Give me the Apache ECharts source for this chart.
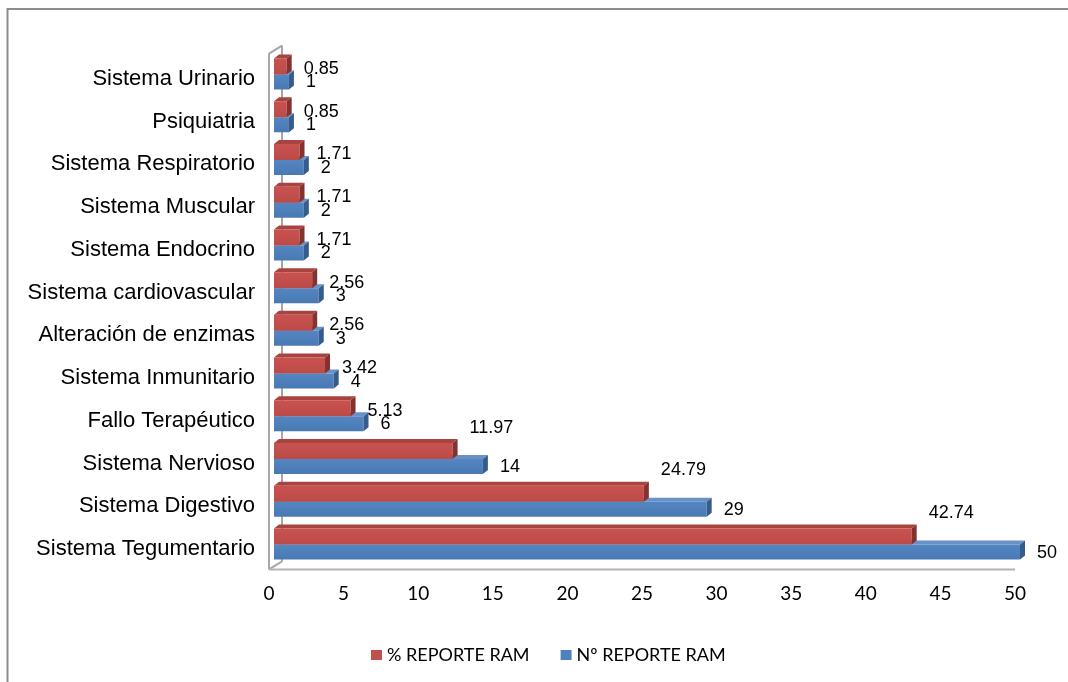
<!DOCTYPE html>
<html>
<head>
<meta charset="utf-8">
<script src="https://cdn.jsdelivr.net/npm/echarts@6/dist/echarts.min.js"></script>
<style>
  html, body { margin: 0; padding: 0; background: #ffffff; }
  #chart { width: 1068px; height: 682px; }
</style>
</head>
<body>
<div id="chart"></div>
<script>
// Categories listed from the bottom of the chart to the top
const categories = [
  'Sistema Tegumentario', 'Sistema Digestivo', 'Sistema Nervioso', 'Fallo Terapéutico',
  'Sistema Inmunitario', 'Alteración de enzimas', 'Sistema cardiovascular', 'Sistema Endocrino',
  'Sistema Muscular', 'Sistema Respiratorio', 'Psiquiatria', 'Sistema Urinario'
];
const pctReport = [42.74, 24.79, 11.97, 5.13, 3.42, 2.56, 2.56, 1.71, 1.71, 1.71, 0.85, 0.85];
const countReport = [50, 29, 14, 6, 4, 3, 3, 2, 2, 2, 1, 1];
const seriesNames = ['% REPORTE RAM', 'Nº REPORTE RAM'];
const axisMin = 0, axisMax = 50, axisStep = 5;

const chart = echarts.init(document.getElementById('chart'), null, { renderer: 'canvas' });

// extrusion of each bar: right and up
const DEPTH_X = 5, DEPTH_Y = -4;
const LABEL_FONT = '18px "Liberation Sans", Arial, sans-serif';

const STYLE_PCT = {
  top: -20.5, bottom: -4.5,
  front: ['#c9524f', '#bb4b48'], topFace: '#a9433f', side: '#85322f',
  labelY: v => (v >= 10 ? -36 : -10)
};
const STYLE_COUNT = {
  top: -4.5, bottom: 10.5,
  front: ['#5386c2', '#4979b3'], topFace: '#6891c7', side: '#365c8b',
  labelY: () => 3.5
};

function bar3d(st) {
  return function (params, api) {
    const v = api.value(0);
    const cat = api.value(1);
    const p0 = api.coord([0, cat]);
    const p1 = api.coord([v, cat]);
    const cy = p0[1];
    const x0 = p0[0], x1 = p1[0];
    const t = cy + st.top, b = cy + st.bottom;
    const dx = DEPTH_X, dy = DEPTH_Y;
    return {
      type: 'group',
      children: [
        {
          type: 'polygon',
          shape: { points: [[x0, t], [x1, t], [x1 + dx, t + dy], [x0 + dx, t + dy]] },
          style: { fill: st.topFace }
        },
        {
          type: 'rect',
          shape: { x: x0, y: t, width: x1 - x0, height: b - t },
          style: {
            fill: new echarts.graphic.LinearGradient(0, 0, 0, 1, [
              { offset: 0, color: st.front[0] },
              { offset: 1, color: st.front[1] }
            ])
          }
        },
        {
          type: 'polygon',
          shape: { points: [[x1, t], [x1 + dx, t + dy], [x1 + dx, b + dy], [x1, b]] },
          style: { fill: st.side }
        },
        {
          type: 'text',
          x: x1 + dx + 12,
          y: cy + st.labelY(v),
          style: {
            text: String(v), fill: '#000000', font: LABEL_FONT,
            align: 'left', verticalAlign: 'middle'
          }
        }
      ]
    };
  };
}

const GRID = { left: 274, right: 48, top: 57.6, bottom: 111.6 };

chart.setOption({
  animation: false,
  backgroundColor: '#ffffff',
  grid: GRID,
  xAxis: {
    type: 'value',
    min: axisMin, max: axisMax, interval: axisStep,
    axisLine: { show: false }, axisTick: { show: false }, splitLine: { show: false },
    axisLabel: {
      margin: 14, color: '#000000', fontFamily: 'Lato, "Noto Sans", sans-serif', fontSize: 19,
      padding: [0, 10, 0, 0]
    }
  },
  yAxis: {
    type: 'category',
    data: categories,
    axisLine: { show: false }, axisTick: { show: false }, splitLine: { show: false },
    axisLabel: {
      margin: 19, color: '#000000', fontFamily: '"Liberation Sans", Arial, sans-serif', fontSize: 22
    }
  },
  legend: {
    data: seriesNames,
    left: 366, top: 641,
    icon: 'rect', itemWidth: 11, itemHeight: 10, itemGap: 31,
    textStyle: { color: '#000000', fontFamily: 'Lato, "Noto Sans", sans-serif', fontSize: 18 }
  },
  series: [
    {
      name: seriesNames[1], type: 'custom', z: 3,
      itemStyle: { color: '#4f81bd' },
      encode: { x: 0, y: 1 },
      renderItem: bar3d(STYLE_COUNT),
      data: countReport.map((v, i) => [v, i])
    },
    {
      name: seriesNames[0], type: 'custom', z: 4,
      itemStyle: { color: '#c0504d' },
      encode: { x: 0, y: 1 },
      renderItem: bar3d(STYLE_PCT),
      data: pctReport.map((v, i) => [v, i])
    }
  ]
});

// Back wall and floor edges, placed from the axis scales
(function drawFrame() {
  const pZero = chart.convertToPixel({ gridIndex: 0 }, [axisMin, 0]);
  const pMax = chart.convertToPixel({ gridIndex: 0 }, [axisMax, 0]);
  const pLast = chart.convertToPixel({ gridIndex: 0 }, [axisMin, categories.length - 1]);
  const band = Math.abs(chart.convertToPixel({ gridIndex: 0 }, [0, 1])[1] - pZero[1]);
  const floorY = pZero[1] + band / 2 - 1;
  const topY = pLast[1] - band / 2 - 4;
  const fx = pZero[0] - 5;      // front edge of the wall
  const bx = fx + 13, by = -8;  // back edge offset
  const wall = { stroke: '#a6a6a6', lineWidth: 2, fill: null };
  chart.setOption({
    graphic: [
      { type: 'line', z: 0, shape: { x1: bx, y1: topY + by, x2: bx, y2: floorY + by }, style: wall },
      { type: 'line', z: 0, shape: { x1: fx, y1: topY, x2: fx, y2: floorY }, style: wall },
      { type: 'line', z: 0, shape: { x1: fx, y1: topY, x2: bx, y2: topY + by }, style: wall },
      { type: 'line', z: 0, shape: { x1: fx, y1: floorY, x2: bx, y2: floorY + by }, style: wall },
      { type: 'line', z: 0, shape: { x1: fx, y1: floorY, x2: pMax[0] - 5, y2: floorY },
        style: { stroke: '#b3b3b3', lineWidth: 2 } },
      // outer chart border
      { type: 'polyline', z: 0, shape: { points: [[7.5, 700], [7.5, 9], [1100, 9]] },
        style: { stroke: '#8c8c8c', lineWidth: 2, fill: null } }
    ]
  });
})();
</script>
</body>
</html>
